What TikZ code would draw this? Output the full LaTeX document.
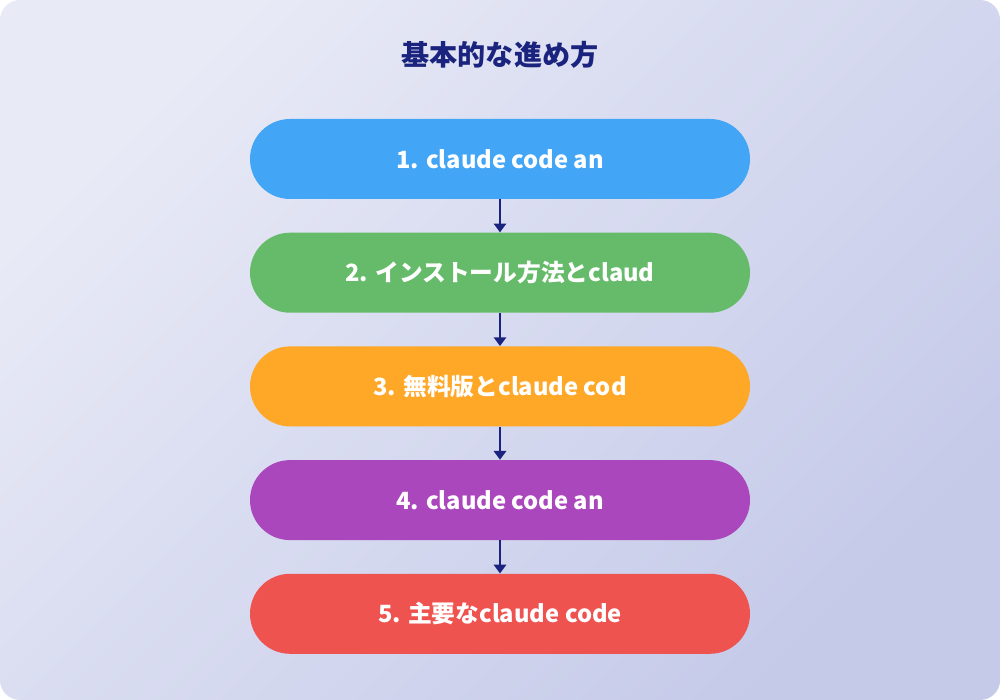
\documentclass[tikz,border=0pt]{standalone}
\usepackage{fontspec}
\setmainfont{Noto Sans CJK JP}
\usetikzlibrary{positioning,arrows.meta}
\definecolor{bgtop}{HTML}{E8EAF6}
\definecolor{bgbot}{HTML}{C5CAE9}
\definecolor{navy}{HTML}{1A237E}
\definecolor{cblue}{HTML}{42A5F5}
\definecolor{cgreen}{HTML}{66BB6A}
\definecolor{corange}{HTML}{FFA726}
\definecolor{cpurple}{HTML}{AB47BC}
\definecolor{cred}{HTML}{EF5350}
\tikzset{stepbox/.style={rectangle,rounded corners=0.8cm,minimum width=10cm,minimum height=1.6cm,
    text=white,font=\fontsize{13.5}{16}\selectfont\bfseries,node distance=0.66cm},
    flow/.style={draw=navy,line width=1.7pt,-{Triangle[length=5pt,width=7pt]}}}
\begin{document}
\begin{tikzpicture}

\useasboundingbox (0,0) rectangle (20,14);
\fill[white] (0,0) rectangle (20,14);
\shade[rounded corners=0.4cm,left color=bgtop,right color=bgbot,shading angle=45] (0,0) rectangle (20,14);

\node (title) [text=navy,font=\fontsize{16}{19}\selectfont\bfseries] at (10,12.9) {基本的な進め方};

\node (s 1) [stepbox,fill=cblue] at (10,10.82) {1. claude code an};
\node (s 2) [stepbox,fill=cgreen,below=of s 1] {2. インストール方法とclaud};
\node (s 3) [stepbox,fill=corange,below=of s 2] {3. 無料版とclaude cod};
\node (s 4) [stepbox,fill=cpurple,below=of s 3] {4. claude code an};
\node (s 5) [stepbox,fill=cred,below=of s 4] {5. 主要なclaude code};

\foreach \i [count=\j from 2] in {1,...,4}
    \draw [flow] (s \i) -- (s \j);

\end{tikzpicture}
\end{document}
